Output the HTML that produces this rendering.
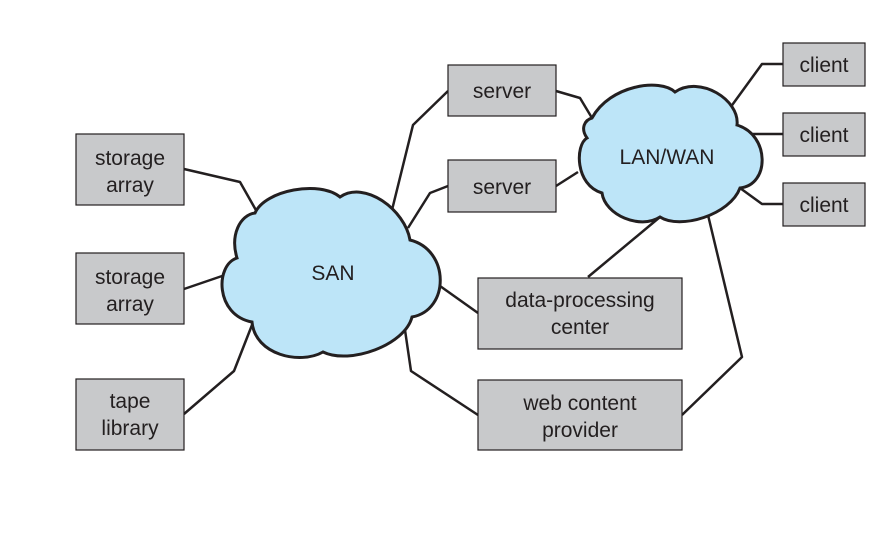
<!DOCTYPE html>
<html><head><style>
body{margin:0;background:#fff;}
svg text{font-family:"Liberation Sans",Arial,sans-serif;font-size:21px;fill:#231f20;}
</style></head><body>
<svg width="882" height="546" viewBox="0 0 882 546" xmlns="http://www.w3.org/2000/svg">
<g stroke="#231f20" stroke-width="2.5" fill="none" stroke-linejoin="round">
<polyline points="184,169 240,182 257,212"/>
<polyline points="184,289 225,275"/>
<polyline points="184,414 234,371 252,325"/>
<polyline points="448,91 413,125 392,210"/>
<polyline points="448,186 430,193 408,228"/>
<polyline points="440,286 478,313"/>
<polyline points="405,330 411,371 478,415"/>
<polyline points="556,91 580,98 592,118"/>
<polyline points="556,186 578,172"/>
<polyline points="730,108 762,64 783,64"/>
<polyline points="750,134 783,134"/>
<polyline points="740,188 762,204 783,204"/>
<polyline points="660,217 588,277"/>
<polyline points="708,215 742,357 682,415"/>
</g>
<g fill="#c8c9cb" stroke="#231f20" stroke-width="1.2">
<rect x="76" y="134" width="108" height="71"/>
<rect x="76" y="253" width="108" height="71"/>
<rect x="76" y="379" width="108" height="71"/>
<rect x="448" y="65" width="108" height="51"/>
<rect x="448" y="160" width="108" height="52"/>
<rect x="783" y="43" width="82" height="43"/>
<rect x="783" y="113" width="82" height="43"/>
<rect x="783" y="183" width="82" height="43"/>
<rect x="478" y="278" width="204" height="71"/>
<rect x="478" y="380" width="204" height="70"/>
</g>
<g fill="#bde5f8" stroke="#231f20" stroke-width="3">
<path d="M255,213 C265,190 320,180 340,197 C365,180 405,210 410,240 C450,250 450,310 412,317 C405,345 350,365 323,352 C300,365 255,355 252,322 C215,315 215,265 237,258 C230,235 240,215 255,213 Z"/>
<path d="M592,118 C610,85 660,78 675,92 C700,75 740,100 737,125 C770,135 770,185 740,188 C730,215 680,230 660,217 C640,230 605,215 602,193 C575,185 575,145 587,138 C580,128 585,120 592,118 Z"/>
</g>
<g text-anchor="middle">
<text x="130" y="165">storage</text><text x="130" y="192">array</text>
<text x="130" y="284">storage</text><text x="130" y="311">array</text>
<text x="130" y="408">tape</text><text x="130" y="435">library</text>
<text x="502" y="98">server</text>
<text x="502" y="194">server</text>
<text x="824" y="72">client</text>
<text x="824" y="142">client</text>
<text x="824" y="212">client</text>
<text x="580" y="307">data-processing</text><text x="580" y="334">center</text>
<text x="580" y="410">web content</text><text x="580" y="437">provider</text>
<text x="333" y="280">SAN</text>
<text x="667" y="164">LAN/WAN</text>
</g>
</svg>
</body></html>
